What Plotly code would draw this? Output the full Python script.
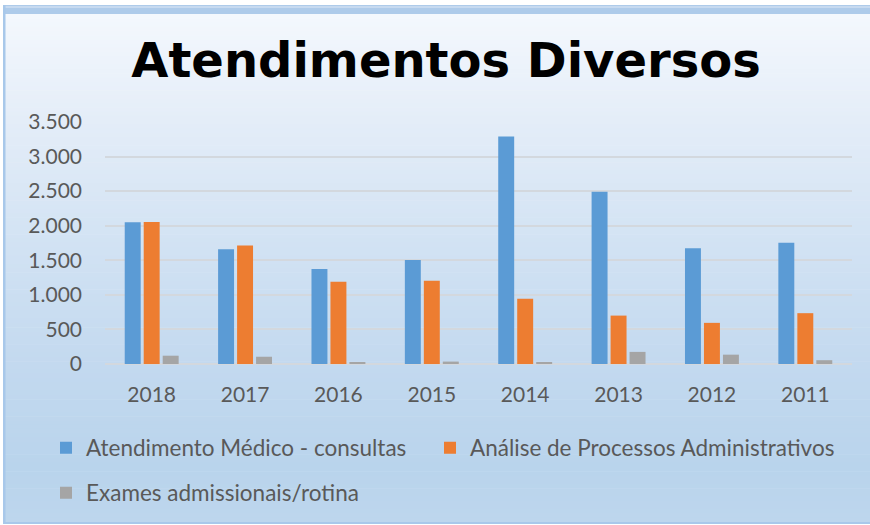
import plotly.graph_objects as go

# Categories and series values
anos = ["2018", "2017", "2016", "2015", "2014", "2013", "2012", "2011"]
consultas = [2050, 1660, 1375, 1505, 3290, 2490, 1675, 1755]
processos = [2055, 1715, 1190, 1205, 945, 700, 595, 735]
exames = [120, 105, 25, 35, 20, 175, 135, 55]

serie_nomes = [
    "Atendimento Médico - consultas",
    "Análise de Processos Administrativos",
    "Exames admissionais/rotina",
]
serie_cores = ["#5b9bd5", "#ed7d31", "#a5a5a5"]

W, H = 870, 525
ML, MR, MT, MB = 105, 18, 122, 161
PW, PH = W - ML - MR, H - MT - MB


def px_x(p):
    return (p - ML) / PW


def px_y(p):
    return (H - MB - p) / PH


def hex_rgb(h):
    h = h.lstrip("#")
    return tuple(int(h[i:i + 2], 16) for i in (0, 2, 4))


def lerp_color(stops, t):
    for (t0, c0), (t1, c1) in zip(stops, stops[1:]):
        if t0 <= t <= t1:
            f = (t - t0) / (t1 - t0) if t1 > t0 else 0
            a, b = hex_rgb(c0), hex_rgb(c1)
            return "rgb(%d,%d,%d)" % tuple(round(a[i] + (b[i] - a[i]) * f) for i in range(3))
    return stops[-1][1]


# Each series gets its own legend box so the entries can be placed freely
legend_ids = ["legend", "legend2", "legend3"]
legend_pos = [(46, 448), (430, 448), (46, 493)]

fig = go.Figure()
for nome, vals, cor, lid in zip(serie_nomes, [consultas, processos, exames], serie_cores, legend_ids):
    fig.add_trace(go.Bar(
        x=anos, y=vals, name=nome, marker=dict(color=cor, line=dict(width=0)),
        legend=lid,
    ))

# Chart-area background: vertical gradient plus frame borders
shapes = []
grad = [(14, "#f4f8fd"), (120, "#e4edf8"), (250, "#d1e2f3"),
        (364, "#c3d9ef"), (470, "#b9d4ec"), (522, "#bdd6ed")]
top, bottom, n = 14, 522, 120
step = (bottom - top) / n
for i in range(n):
    y0 = top + i * step
    shapes.append(dict(
        type="rect", xref="paper", yref="paper", layer="below",
        x0=px_x(5), x1=px_x(871), y0=px_y(y0 + step + 0.6), y1=px_y(y0),
        fillcolor=lerp_color(grad, y0 + step / 2), line=dict(width=0),
    ))
shapes += [
    dict(type="rect", xref="paper", yref="paper", layer="below",
         x0=px_x(3), x1=px_x(871), y0=px_y(14), y1=px_y(5),
         fillcolor="#aecbea", line=dict(width=0)),
    dict(type="rect", xref="paper", yref="paper", layer="below",
         x0=px_x(3), x1=px_x(871), y0=px_y(7.5), y1=px_y(6.5),
         fillcolor="#dfeaf6", line=dict(width=0)),
    dict(type="rect", xref="paper", yref="paper", layer="below",
         x0=px_x(3), x1=px_x(5.5), y0=px_y(524), y1=px_y(5),
         fillcolor="#a8c8ea", line=dict(width=0)),
    dict(type="rect", xref="paper", yref="paper", layer="below",
         x0=px_x(3), x1=px_x(871), y0=px_y(524), y1=px_y(522),
         fillcolor="#a8c8ea", line=dict(width=0)),
]

tick_font = dict(family="Lato, 'Open Sans', sans-serif", size=21, color="#595959")
legend_font = dict(family="Lato, 'Open Sans', sans-serif", size=22.5, color="#595959")

legends = {}
for lid, (lx, ly) in zip(legend_ids, legend_pos):
    legends[lid] = dict(
        orientation="h", xref="container", yref="container",
        x=lx / W, y=1 - ly / H, xanchor="left", yanchor="middle",
        font=legend_font, bgcolor="rgba(0,0,0,0)", itemclick=False,
    )

fig.update_layout(
    width=W, height=H,
    margin=dict(l=ML, r=MR, t=MT, b=MB),
    paper_bgcolor="white", plot_bgcolor="rgba(0,0,0,0)",
    separators=",.",
    barmode="group", bargap=0.39, bargroupgap=0.16,
    title=dict(
        text="<b>Atendimentos Diversos</b>",
        font=dict(family="DejaVu Sans, sans-serif", size=48, color="#000000"),
        xref="container", yref="container", x=446 / W, y=1 - 60 / H,
        xanchor="center", yanchor="middle",
    ),
    xaxis=dict(
        showgrid=False, showline=False, ticks="", tickfont=tick_font,
        ticklabelstandoff=16,
    ),
    yaxis=dict(
        range=[0, 3500], dtick=500, tickformat=",d", tickfont=tick_font,
        showgrid=True, gridcolor="#d3d8de", gridwidth=1.6,
        zeroline=True, zerolinecolor="#d3d8de", zerolinewidth=1.6,
        showline=False, ticks="", ticklabelstandoff=22,
    ),
    shapes=shapes,
    showlegend=True,
    **legends,
)

fig.write_html("out.html")
